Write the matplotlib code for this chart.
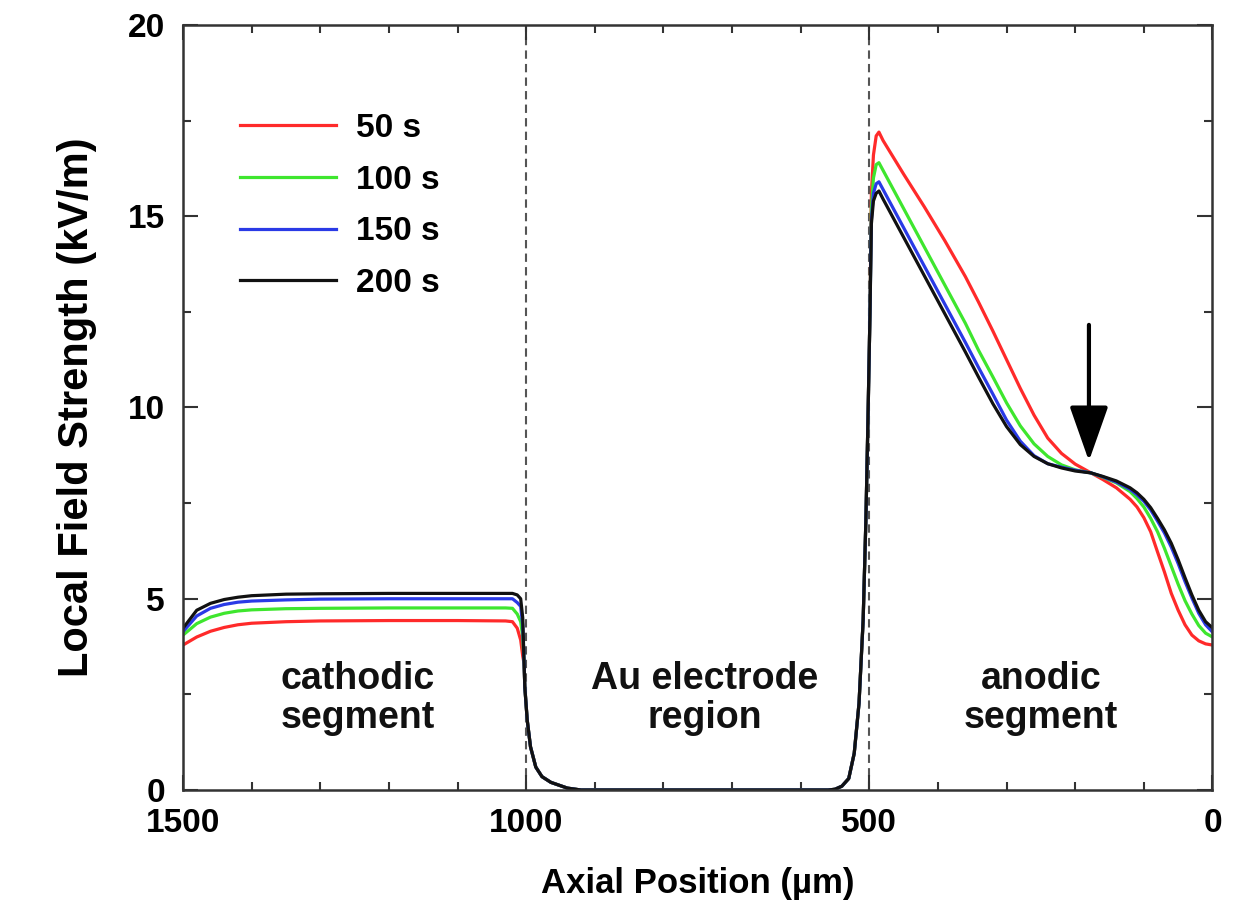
import numpy as np
import matplotlib.pyplot as plt
from matplotlib.ticker import MultipleLocator

plt.rcParams['font.family'] = ['Liberation Sans', 'DejaVu Sans']
plt.rcParams['font.weight'] = 'bold'

# axial positions (um)
x_cath = [1500, 1480, 1460, 1440, 1420, 1400, 1350, 1300, 1200, 1100, 1030, 1020, 1013, 1008, 1005]
x_gap = [1003, 1002, 998.5, 993.7, 986, 977, 964, 940, 920, 700, 560, 550, 540, 530, 522, 515, 509, 505, 502, 499]
x_peak = [497, 494, 490, 486, 480, 450, 420, 390, 360]
x_anode = [341, 320, 300, 280, 260, 240, 220, 200, 177, 160, 140, 120, 110, 100, 90, 80, 70, 60, 50, 40, 30, 20, 10, 0]

# field strength in the gap (all curves overlap)
y_gap = [3.3, 2.7, 1.83, 1.13, 0.6, 0.35, 0.2, 0.05, 0.0, 0.0, 0.0, 0.02, 0.1, 0.3, 0.96, 2.27, 4.44, 7.06, 9.67, 12.5]

y_50_cath = [3.79, 4.0, 4.15, 4.25, 4.32, 4.36, 4.4, 4.42, 4.43, 4.43, 4.42, 4.4, 4.23, 3.92, 3.5]
y_100_cath = [4.05, 4.35, 4.52, 4.62, 4.68, 4.71, 4.74, 4.75, 4.76, 4.76, 4.76, 4.75, 4.6, 4.4, 4.0]
y_150_cath = [4.14, 4.55, 4.75, 4.85, 4.91, 4.94, 4.97, 4.99, 5.0, 5.0, 5.0, 5.0, 4.9, 4.8, 4.3]
y_200_cath = [4.23, 4.7, 4.88, 4.98, 5.04, 5.08, 5.12, 5.13, 5.14, 5.14, 5.14, 5.14, 5.1, 5.0, 4.5]

y_50_peak = [15.6, 16.6, 17.1, 17.2, 16.98, 16.1, 15.25, 14.36, 13.42]
y_100_peak = [15.2, 16.0, 16.35, 16.4, 16.2, 15.2, 14.2, 13.2, 12.2]
y_150_peak = [14.9, 15.6, 15.85, 15.9, 15.7, 14.7, 13.7, 12.7, 11.7]
y_200_peak = [14.8, 15.4, 15.6, 15.66, 15.45, 14.45, 13.45, 12.45, 11.45]

y_50_anode = [12.76, 12.0, 11.25, 10.5, 9.8, 9.2, 8.8, 8.52, 8.29, 8.12, 7.9, 7.6, 7.4, 7.12, 6.75, 6.22, 5.7, 5.14, 4.7, 4.32, 4.05, 3.9, 3.82, 3.79]
y_100_anode = [11.5, 10.8, 10.12, 9.52, 9.05, 8.72, 8.5, 8.37, 8.29, 8.18, 8.03, 7.8, 7.62, 7.4, 7.1, 6.75, 6.32, 5.85, 5.38, 4.95, 4.6, 4.3, 4.1, 4.0]
y_150_anode = [11.05, 10.35, 9.67, 9.12, 8.74, 8.53, 8.44, 8.36, 8.29, 8.19, 8.05, 7.86, 7.72, 7.55, 7.32, 7.03, 6.72, 6.35, 5.92, 5.45, 5.02, 4.62, 4.32, 4.13]
y_200_anode = [10.8, 10.1, 9.5, 9.03, 8.72, 8.53, 8.42, 8.34, 8.29, 8.2, 8.08, 7.9, 7.77, 7.6, 7.38, 7.1, 6.8, 6.45, 6.02, 5.55, 5.1, 4.7, 4.4, 4.24]

labels = ['50 s', '100 s', '150 s', '200 s']
colors = ['#ff2a2a', '#3ee62e', '#2a3ae6', '#111111']

boundaries = [1000, 500]
regions = ['cathodic\nsegment', 'Au electrode\nregion', 'anodic\nsegment']
region_x = [1246, 740, 250]
region_y = 2.4
arrow_x, arrow_top, arrow_tip = 180, 12.16, 8.6

x_all = np.array(x_cath + x_gap + x_peak + x_anode)
series = [
    y_50_cath + y_gap + y_50_peak + y_50_anode,
    y_100_cath + y_gap + y_100_peak + y_100_anode,
    y_150_cath + y_gap + y_150_peak + y_150_anode,
    y_200_cath + y_gap + y_200_peak + y_200_anode,
]

fig = plt.figure(figsize=(12.4, 9.15), dpi=100)
ax = fig.add_axes([0.1476, 0.1366, 0.8302, 0.8361])

for xb in boundaries:
    ax.axvline(xb, color='#555555', lw=1.5, ls=(0, (4, 2.5)), zorder=1)

for y, c, lab in zip(series, colors, labels):
    ax.plot(x_all, y, color=c, lw=2.3, label=lab, zorder=2)

for txt, xr in zip(regions, region_x):
    ax.text(xr, region_y, txt, ha='center', va='center', fontsize=27,
            fontweight='bold', linespacing=1.1, color='#111111')

ax.annotate('', xy=(arrow_x, arrow_tip), xytext=(arrow_x, arrow_top),
            arrowprops=dict(arrowstyle='-|>,head_length=1.7,head_width=0.6',
                            lw=3, color='black', mutation_scale=20,
                            shrinkA=0, shrinkB=0))

ax.set_xlim(1500, 0)
ax.set_ylim(0, 20)
ax.xaxis.set_major_locator(MultipleLocator(500))
ax.xaxis.set_minor_locator(MultipleLocator(100))
ax.yaxis.set_major_locator(MultipleLocator(5))
ax.yaxis.set_minor_locator(MultipleLocator(2.5))
ax.tick_params(which='both', direction='in', top=True, right=True,
               width=1.5, color='#333333', labelsize=24)
ax.tick_params(which='major', length=11)
ax.tick_params(which='minor', length=6)
ax.tick_params(axis='y', pad=13)
ax.tick_params(axis='x', pad=13)
for sp in ax.spines.values():
    sp.set_linewidth(1.8)
    sp.set_color('#333333')

ax.set_xlabel('Axial Position (µm)', fontsize=25, fontweight='bold', labelpad=20)
ax.set_ylabel('Local Field Strength (kV/m)', fontsize=30, fontweight='bold', labelpad=22)

ax.legend(loc='upper left', bbox_to_anchor=(0.055, 0.885), frameon=False,
          fontsize=24, handlelength=2.9, handletextpad=0.6, labelspacing=0.62,
          borderpad=0, borderaxespad=0)

fig.savefig('out.png', dpi=100)
